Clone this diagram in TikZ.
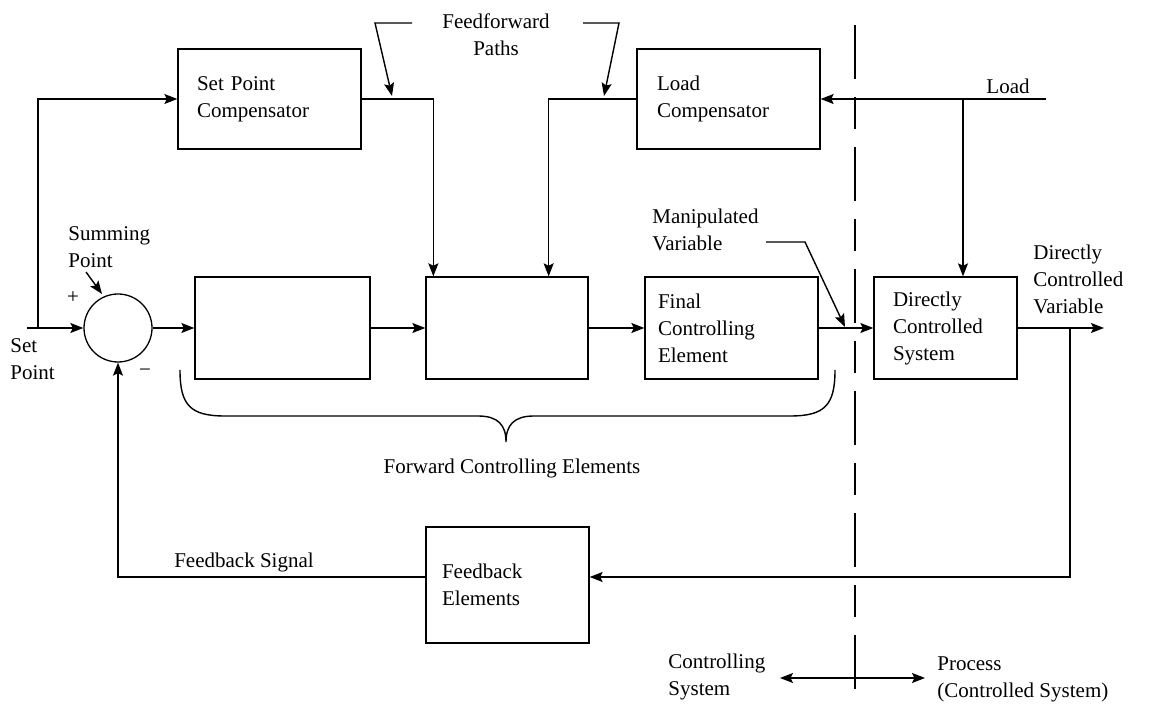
\documentclass[tikz,border=0pt]{standalone}
\usepackage{fontspec}
\setmainfont{Liberation Serif}
\usetikzlibrary{arrows.meta}
\begin{document}
\begin{tikzpicture}[x=0.5pt,y=-0.5pt,
  every node/.style={font=\fontsize{10.5pt}{13.5pt}\selectfont, inner sep=0pt},
  line/.style={line width=0.7pt},
  tip/.style={Stealth[length=6.5pt,width=5pt,inset=1.2pt]},
  arr/.style={line, -{Stealth[length=6.5pt,width=5pt,inset=1.2pt]}},
  box/.style={draw, line width=0.65pt, align=left, minimum height=51pt},
  sumpt/.style={draw, circle, line width=0.65pt, minimum size=34pt},
  txt/.style={align=left, anchor=west},
  divider/.style={line width=0.7pt, dash pattern=on 27pt off 9pt on 16pt off 9pt}
]
\useasboundingbox (0,0) rectangle (1156,704);

% blocks
\node[box, minimum width=91.5pt, minimum height=50pt, text width=72.5pt, inner xsep=9.5pt]
  (spc) at (269.5,99) {Set Point\\Compensator};
\node[box, minimum width=91.5pt, minimum height=50pt, text width=71.5pt, inner xsep=10pt]
  (lc) at (728.5,99) {Load\\Compensator};
\node[sumpt] (sum) at (118,328) {};
\node[box, minimum width=87.5pt] (b1) at (282.5,328) {};
\node[box, minimum width=81pt] (b2) at (507,328) {};
\node[box, minimum width=86.5pt, text width=73.5pt, inner xsep=6.5pt]
  (fce) at (731.5,328) {Final\\Controlling\\Element};
\node[box, minimum width=71.5pt, text width=52.5pt, inner xsep=9.5pt]
  (dcs) at (945.5,328) {Directly\\Controlled\\System};
\node[box, minimum width=81.5pt, minimum height=58pt, text width=65.5pt, inner xsep=8pt]
  (fb) at (507.5,585) {Feedback\\Elements\\[11pt]};

% labels
\node[align=center] (fflab) at (496,34.5) {Feedforward\\Paths};
\node[txt] (sumlab) at (68,247) {Summing\\Point};
\node (plus) at (73,298) {+};
\node (minus) at (145,373) {−};
\node[txt] (splab) at (10,359) {Set\\Point};
\node (loadlab) at (1008,86) {Load};
\node[txt] (mvlab) at (652,230) {Manipulated\\Variable};
\node[txt] (cvlab) at (1033,279) {Directly\\Controlled\\Variable};
\node (fwdlab) at (512,468) {Forward Controlling Elements};
\node (fbslab) at (244,562) {Feedback Signal};
\node[txt] (cslab) at (668,676.5) {Controlling\\System};
\node[txt] (prlab) at (937,679.5) {Process\\(Controlled System)};

% boundary between controlling system and process
\coordinate (divtop) at (855,25);
\coordinate (divbot) at (855,692);
\draw[divider] (divtop) -- (divbot);

% free ends of signal lines
\coordinate (spin) at (27,328);
\coordinate (spbr) at (38,328);
\coordinate (loadin) at (1046,99);
\coordinate (loadbr) at (963,99);
\coordinate (yout) at (1104,328);
\coordinate (ybr) at (1070,328);

% forward path
\draw[arr] (spin) -- (sum.west);
\draw[arr] (sum.east) -- (b1.west);
\draw[arr] (b1.east) -- (b2.west);
\draw[arr] (b2.east) -- (fce.west);
\draw[arr] (fce.east) -- (dcs.west);
\draw[arr] (dcs.east) -- (yout);

% feedforward paths
\draw[arr] (spbr) |- (spc.west);
\draw[arr] (spc.east) -| ([xshift=4pt]b2.north west);
\draw[arr] (loadin) -- (lc.east);
\draw[arr] (lc.west) -| ([xshift=-20pt]b2.north east);
\draw[arr] (loadbr) -- (loadbr |- dcs.north);

% feedback path
\draw[arr] (ybr) |- ([yshift=4pt]fb.east);
\draw[arr] ([yshift=4pt]fb.west) -| (sum.south);

% pointers of the annotations
\coordinate (ffa1) at (412,23);
\coordinate (ffa2) at (375,23);
\coordinate (ffa3) at (392,96);
\draw[arr] (ffa1) -- (ffa2) -- (ffa3);
\coordinate (ffb1) at (583,23);
\coordinate (ffb2) at (619,23);
\coordinate (ffb3) at (604,96);
\draw[arr] (ffb1) -- (ffb2) -- (ffb3);
\coordinate (mv1) at (766,242);
\coordinate (mv2) at (805,242);
\coordinate (mv3) at (845,327);
\draw[arr] (mv1) -- (mv2) -- (mv3);
\coordinate (sp1) at (86,272);
\coordinate (sp2) at (102,294);
\draw[arr] (sp1) -- (sp2);

% brace under the forward controlling elements
\draw[line] (180,370) .. controls (180,405) and (190,416) .. (225,416) -- (478,416)
  .. controls (498,416) and (506,425) .. (506,442)
  .. controls (506,425) and (514,416) .. (534,416) -- (790,416)
  .. controls (825,416) and (835,405) .. (835,370);

% controlling system / process
\coordinate (csl) at (780,678);
\coordinate (csr) at (925,678);
\draw[line, {Stealth[length=6.5pt,width=5pt,inset=1.2pt]}-{Stealth[length=6.5pt,width=5pt,inset=1.2pt]}] (csl) -- (csr);
\end{tikzpicture}
\end{document}
